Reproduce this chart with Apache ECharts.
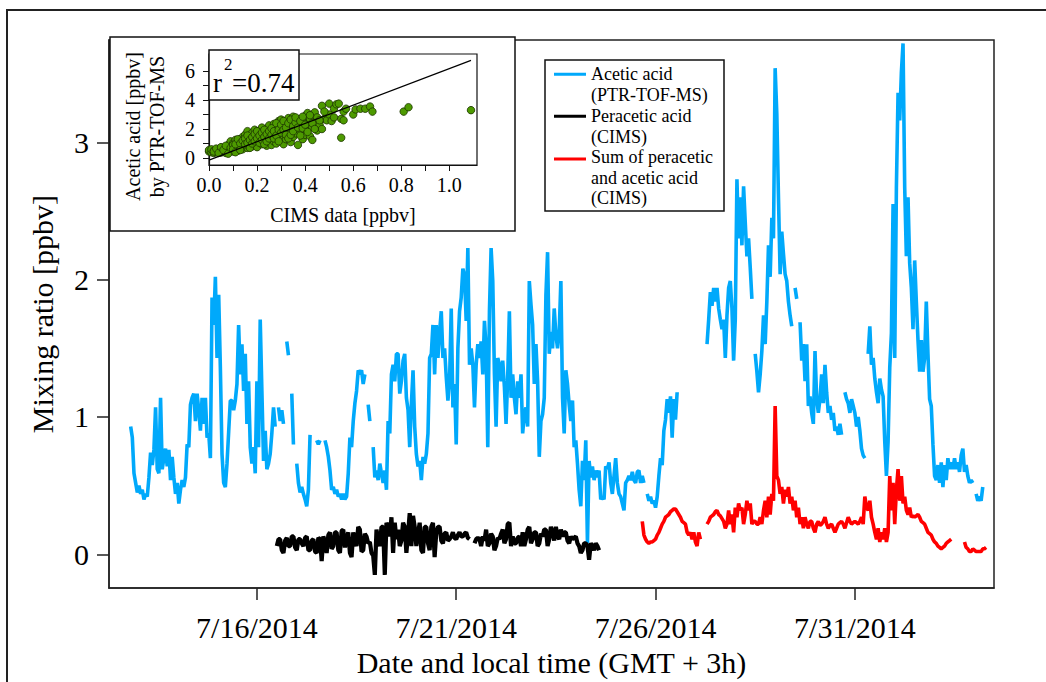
<!DOCTYPE html>
<html><head><meta charset="utf-8">
<script src="https://cdn.jsdelivr.net/npm/echarts@6/dist/echarts.min.js"></script>
<style>html,body{margin:0;padding:0;background:#fff}#c{width:1046px;height:682px}</style>
</head><body><div id="c"></div>
<script>
// ---------- data ----------
const seriesNames = ['Acetic acid (PTR-TOF-MS)', 'Peracetic acid (CIMS)', 'Sum of peracetic and acetic acid (CIMS)'];
const legendLabels = ['Acetic acid\n(PTR-TOF-MS)', 'Peracetic acid\n(CIMS)', 'Sum of peracetic\nand acetic acid\n(CIMS)'];
const xTickValues = [15, 20, 25, 30];           // days since 2014-07-01
const xTickLabels = ['7/16/2014', '7/21/2014', '7/26/2014', '7/31/2014'];
const yTickValues = [0, 1, 2, 3];

// hourly values (null = no data)
const aceticStart = '2014-07-12 20:00';
const aceticValues = [
0.93,0.85,0.59,0.52,0.45,0.50,0.44,0.47,0.40,0.44,
0.42,0.56,0.74,0.65,0.76,1.07,0.62,0.59,1.14,0.62,
0.70,0.77,0.64,0.76,0.54,0.71,0.56,0.44,0.52,0.37,
0.47,0.54,0.49,0.56,0.80,0.78,1.09,1.14,1.17,0.97,
1.17,1.05,0.90,1.14,0.95,1.14,0.85,0.88,0.70,1.87,
1.67,2.02,1.43,1.89,1.36,0.73,0.52,0.49,0.66,0.89,
1.12,1.12,1.05,1.12,1.24,1.67,1.31,1.53,1.19,1.46,
0.95,1.26,0.78,0.66,0.78,0.59,1.26,0.78,1.71,1.19,
0.68,0.90,0.62,0.66,0.73,0.88,1.07,0.93,null,1.07,
0.97,1.05,0.95,null,1.55,1.45,null,1.17,0.80,null,
0.66,0.52,0.45,0.49,0.44,0.40,0.35,0.47,0.87,null,
null,null,0.83,0.80,0.83,null,null,0.83,0.78,0.71,
0.61,0.47,0.49,0.44,0.47,0.42,0.44,0.40,0.44,0.40,
0.42,0.59,0.85,0.78,0.97,1.10,1.19,1.34,1.31,1.34,
1.24,1.31,null,1.09,0.97,null,0.78,0.56,0.61,0.54,
0.66,0.59,0.52,0.61,0.47,0.97,0.88,1.31,1.38,1.26,
1.46,1.46,1.17,1.26,1.41,1.46,1.14,1.05,0.78,1.09,
1.34,0.93,0.73,0.64,0.68,0.54,0.71,0.66,0.73,0.88,
1.43,1.46,1.67,1.31,1.67,1.43,1.62,1.77,1.43,1.50,
1.29,1.12,1.26,1.79,1.07,1.24,0.80,1.50,1.77,1.87,
2.08,2.03,1.70,2.23,1.38,1.50,1.38,1.07,1.38,1.53,
1.43,1.55,1.31,1.70,1.50,0.78,1.77,2.23,1.99,1.31,
0.93,1.43,1.38,1.26,1.41,1.22,0.95,1.29,1.77,1.14,
1.31,1.14,1.02,1.26,1.14,1.31,0.88,1.02,1.07,0.93,
1.99,1.82,1.67,1.24,1.53,1.26,0.71,0.97,1.02,1.14,
1.89,2.20,1.46,1.62,1.50,1.79,1.60,1.50,1.62,1.99,
1.14,0.88,1.34,1.24,1.09,0.97,1.12,0.78,0.83,0.66,
0.47,0.35,0.68,0.54,0.83,0.08,0.68,0.56,0.64,0.54,
0.61,0.56,0.61,0.40,0.42,0.40,0.64,0.62,0.67,0.52,
0.44,0.57,0.70,0.52,0.44,0.42,0.37,0.32,0.52,0.54,
0.57,0.54,0.60,0.54,0.52,0.60,0.61,0.52,0.57,0.52,
null,0.44,0.39,0.42,0.37,0.39,0.34,0.42,0.57,0.70,
0.65,0.90,0.98,1.13,1.03,1.15,0.85,1.13,0.98,1.18,
null,null,null,null,null,null,null,null,null,null,
null,null,null,null,null,null,null,1.53,1.71,1.91,
1.81,1.94,1.84,1.94,1.79,1.71,1.64,1.71,1.43,1.74,
1.94,1.99,1.79,1.41,1.71,2.73,2.30,2.60,2.25,2.68,
2.42,2.17,2.30,2.09,1.86,null,1.46,1.33,1.18,1.31,
1.48,1.74,1.53,1.84,2.25,2.02,2.45,2.30,3.54,3.21,
2.60,2.04,2.35,2.19,2.04,1.99,1.84,1.74,1.66,null,
1.94,1.86,null,1.69,1.41,1.53,1.26,1.53,1.08,1.15,
1.03,0.95,1.48,1.13,1.03,1.13,1.31,1.10,1.38,1.18,
1.03,1.08,0.98,1.03,0.90,0.93,0.87,0.95,0.87,null,
1.18,1.13,1.10,1.03,1.13,1.08,1.03,0.93,1.00,0.90,
0.77,0.72,0.70,null,1.46,1.66,1.38,1.43,1.28,1.18,
1.10,1.28,1.20,1.15,0.82,0.57,0.82,1.36,1.61,2.55,
1.43,2.67,3.36,3.16,3.51,3.72,2.67,2.17,2.60,2.12,
1.94,1.64,2.14,1.84,1.56,1.33,1.56,1.33,1.43,1.84,
1.46,1.13,1.08,0.80,0.57,0.54,0.65,0.52,0.67,0.49,
0.65,0.54,0.70,0.62,0.67,0.62,0.70,0.62,0.67,0.60,
0.72,0.77,0.60,0.65,0.57,0.52,0.54,0.52,null,0.44,
0.39,0.42,0.39,0.49
];

const peraceticStart = '2014-07-16 12:00';
const peraceticValues = [
0.06,0.11,0.11,0.03,0.01,0.10,0.12,0.06,0.06,0.13,
0.13,0.05,0.03,0.11,0.11,0.08,0.06,0.12,0.13,0.03,
0.03,0.10,0.11,0.02,0.01,0.12,0.11,-0.05,0.13,0.09,
0.01,0.14,0.16,0.04,0.06,0.16,0.16,0.03,0.01,0.17,
0.18,0.05,0.11,0.16,0.01,-0.02,0.16,0.10,0.06,0.20,
0.18,0.02,0.03,0.15,0.13,0.08,0.09,0.01,-0.01,-0.15,
0.18,0.10,0.06,0.20,0.20,-0.15,0.23,0.20,0.13,0.27,
0.01,0.23,0.11,0.18,0.06,0.10,0.23,0.20,0.01,0.15,
0.30,0.06,0.28,0.20,0.06,0.15,0.23,0.03,0.01,0.20,
0.20,0.08,0.03,0.20,0.23,-0.02,0.16,0.20,0.20,0.10,
0.08,0.15,0.16,0.10,0.11,0.13,0.16,0.12,0.11,0.14,
0.16,0.13,0.13,0.15,0.16,0.12,0.11,null,null,0.08,
0.11,0.12,0.11,0.06,0.13,0.10,0.18,0.06,0.08,0.15,
0.13,0.03,0.06,0.12,0.11,0.15,0.18,0.08,0.11,0.22,
0.23,0.06,0.13,0.08,0.08,0.12,0.13,0.06,0.16,0.06,
0.11,0.18,0.20,0.08,0.11,0.16,0.16,0.06,0.08,0.15,
0.13,0.18,0.18,0.06,0.11,0.20,0.16,0.10,0.20,0.13,
0.11,0.18,0.13,0.16,0.16,0.10,0.08,0.13,0.11,0.12,
0.13,0.08,0.06,0.01,0.03,0.08,0.08,0.06,-0.04,0.08,
0.06,0.03,0.08,0.06,0.03
];

const sumStart = '2014-07-25 16:00';
const sumValues = [
0.24,0.14,0.11,0.09,0.08,0.09,0.09,0.10,0.11,0.14,
0.16,0.19,0.22,0.24,0.27,0.28,0.29,0.31,0.32,0.33,
0.33,0.31,0.29,0.27,0.24,0.23,0.22,0.16,0.14,0.16,
0.11,0.16,0.09,0.06,0.16,0.11,null,null,null,0.22,
0.24,0.27,0.28,0.29,0.31,0.32,0.29,0.28,0.26,0.24,
0.19,0.22,0.32,0.22,0.29,0.16,0.34,0.27,0.37,0.32,
0.34,0.22,0.29,0.39,0.32,0.37,0.22,0.24,0.24,0.22,
0.22,0.27,0.22,0.32,0.39,0.27,0.42,0.29,0.44,0.39,
1.08,0.57,0.54,0.44,0.49,0.37,0.47,0.42,0.49,0.37,
0.42,0.32,0.39,0.27,0.34,0.22,0.27,0.19,0.27,0.22,
0.19,0.24,0.24,0.19,0.16,0.22,0.24,0.21,0.22,0.24,
0.27,0.22,0.19,0.21,0.22,0.19,0.16,0.19,0.22,0.23,
0.24,0.22,0.19,0.23,0.27,0.24,0.22,0.23,0.24,0.23,
0.22,0.24,0.27,0.22,0.42,0.34,0.32,0.39,0.27,0.22,
0.16,0.11,0.19,0.09,0.16,0.11,0.19,0.09,0.16,0.57,
0.32,0.52,0.22,0.47,0.62,0.39,0.57,0.37,0.42,0.32,
0.29,0.34,0.27,0.28,0.27,0.28,0.29,0.27,0.24,0.23,
0.22,0.19,0.16,0.15,0.14,0.11,0.09,0.08,0.06,0.05,
0.04,0.05,0.06,0.08,0.09,0.10,0.11,null,null,null,
null,null,null,null,0.09,0.05,0.04,0.02,0.02,0.04,
0.03,0.02,0.02,0.02,0.02,0.04,0.04,0.05
];

// inset: CIMS acetic acid (x) vs PTR-TOF-MS acetic acid (y), ppbv
const insetScatter = [
[0.00,0.45],[0.00,0.55],[0.01,0.40],[0.01,0.60],[0.02,0.50],[0.02,0.35],[0.03,0.55],[0.03,0.42],[0.04,0.48],[0.04,0.62],
[0.05,0.38],[0.05,0.55],[0.06,0.45],[0.06,0.70],[0.07,0.50],[0.07,0.35],[0.08,0.60],[0.08,0.90],[0.08,0.42],[0.09,0.55],
[0.09,1.15],[0.10,0.75],[0.10,0.45],[0.10,1.00],[0.11,0.60],[0.11,1.25],[0.12,0.85],[0.12,0.50],[0.12,1.10],[0.13,0.70],
[0.13,1.30],[0.14,0.95],[0.14,0.60],[0.14,1.45],[0.15,1.10],[0.15,0.80],[0.15,1.60],[0.16,0.70],[0.16,1.25],[0.16,1.85],
[0.17,0.95],[0.17,1.50],[0.18,1.20],[0.18,0.80],[0.18,1.75],[0.19,1.40],[0.19,0.90],[0.19,1.95],[0.20,1.05],[0.20,1.60],
[0.20,0.75],[0.21,1.30],[0.21,1.85],[0.22,0.95],[0.22,1.50],[0.22,2.10],[0.23,1.20],[0.23,1.75],[0.24,0.85],[0.24,1.40],
[0.24,2.00],[0.25,1.10],[0.25,1.65],[0.25,2.25],[0.26,1.30],[0.26,0.90],[0.26,1.95],[0.27,1.55],[0.27,2.35],[0.27,1.15],
[0.28,1.80],[0.28,1.00],[0.28,2.15],[0.29,1.40],[0.29,2.55],[0.29,1.70],[0.30,1.20],[0.30,2.00],[0.30,2.65],[0.31,1.55],
[0.31,2.30],[0.31,0.95],[0.32,1.85],[0.32,2.50],[0.32,1.30],[0.33,2.10],[0.33,2.75],[0.33,1.60],[0.34,1.10],[0.34,2.35],
[0.34,1.90],[0.35,2.60],[0.35,1.45],[0.35,2.85],[0.36,2.05],[0.36,1.70],[0.37,0.90],[0.37,2.40],[0.37,2.70],[0.38,1.85],
[0.38,2.20],[0.39,1.30],[0.39,2.55],[0.40,1.60],[0.40,2.90],[0.40,2.00],[0.41,2.35],[0.41,3.10],[0.42,1.50],[0.42,2.70],
[0.43,1.25],[0.43,2.10],[0.44,2.50],[0.44,3.15],[0.45,1.90],[0.45,2.80],[0.46,2.30],[0.47,3.60],[0.47,2.00],[0.48,2.70],
[0.49,2.60],[0.50,3.75],[0.50,3.00],[0.51,2.55],[0.52,3.40],[0.53,3.70],[0.54,3.75],[0.55,1.40],[0.55,2.70],[0.56,3.20],
[0.56,2.60],[0.57,3.40],[0.60,3.00],[0.61,3.35],[0.63,3.40],[0.65,3.40],[0.67,3.55],[0.68,3.20],[0.81,3.20],[0.83,3.50],
[1.09,3.30],
[0.02,0.45],[0.03,0.65],[0.04,0.35],[0.05,0.75],[0.06,0.55],[0.07,0.85],[0.08,0.30],[0.09,0.70],[0.10,0.90],[0.10,0.60],
[0.11,0.95],[0.11,0.40],[0.12,1.30],[0.13,1.00],[0.13,0.55],[0.14,1.20],[0.15,1.35],[0.15,0.95],[0.16,1.05],[0.16,1.55],
[0.17,1.25],[0.17,0.70],[0.18,1.45],[0.18,1.00],[0.19,1.65],[0.19,1.15],[0.20,1.35],[0.20,1.85],[0.21,1.55],[0.21,1.05],
[0.22,1.25],[0.22,1.75],[0.23,1.45],[0.23,1.95],[0.23,0.95],[0.24,1.65],[0.24,1.15],[0.25,1.85],[0.25,1.35],[0.26,2.05],
[0.26,1.60],[0.27,1.85],[0.27,1.35],[0.28,1.55],[0.28,2.40],[0.29,1.95],[0.29,1.15],[0.30,1.75],[0.30,2.30],[0.31,1.95],
[0.31,2.55],[0.32,2.10],[0.32,1.60],[0.33,2.40],[0.33,1.35],[0.34,2.65],[0.34,1.60],[0.35,2.20],[0.35,1.85],[0.36,2.45],
[0.36,2.80],[0.37,2.10],[0.38,2.55],[0.38,1.55],[0.39,2.85],[0.39,2.05],[0.40,2.30],[0.41,1.80],[0.42,2.95],[0.43,2.40],
[0.44,2.00],[0.46,2.60],[0.48,3.20],[0.52,2.80]
];
const fitLineX = [0.0, 1.09];
const fitLineY = [-0.14, 6.73];
const insetXTicks = [0, 0.1, 0.2, 0.3, 0.4, 0.5, 0.6, 0.7, 0.8, 0.9, 1.0];
const insetXLabels = [0, 0.2, 0.4, 0.6, 0.8, 1.0];
const insetYTicks = [0, 1, 2, 3, 4, 5, 6];
const insetYLabels = [0, 2, 4, 6];
const rSquared = '=0.74';

// ---------- helpers ----------
function dayOf(s) {
  const [d, t] = s.split(' ');
  const [Y, M, D] = d.split('-').map(Number);
  const [h, m] = t.split(':').map(Number);
  return (Date.UTC(Y, M - 1, D, h, m) - Date.UTC(2014, 6, 1)) / 864e5;
}
function hourly(start, vals) {
  const s0 = dayOf(start);
  return vals.map((v, i) => [s0 + i / 24, v === null ? '-' : v]);
}
const FONT = 'Liberation Serif';
const colors = ['#00a9fb', '#000000', '#ff0000'];

const chart = echarts.init(document.getElementById('c'), null, {renderer: 'svg'});

const iconPaths = [
  'path://M0,0h0.1v0.1h-0.1z M0,8.5h32v3h-32z M0,39.9h0.1v0.1h-0.1z',
  'path://M0,0h0.1v0.1h-0.1z M0,8.5h32v3h-32z M0,39.9h0.1v0.1h-0.1z',
  'path://M0,0h32v3h-32z M0,39.9h0.1v0.1h-0.1z'
];
const legendTops = [63.75, 105.75, 146.75];

const option = {
  animation: false,
  backgroundColor: '#fff',
  textStyle: {fontFamily: FONT},
  grid: [
    {left: 109, top: 40, width: 885, height: 552, show: true, borderColor: '#222', borderWidth: 1.5, backgroundColor: 'rgba(0,0,0,0)'},
    {left: 209, top: 54, width: 268, height: 111, show: true, borderColor: '#111', borderWidth: 1.2, backgroundColor: 'rgba(0,0,0,0)', z: 60}
  ],
  xAxis: [
    {
      type: 'value', gridIndex: 0, min: 11.29, max: 33.49,
      axisLine: {onZero: false, lineStyle: {color: '#222', width: 1.5}},
      axisTick: {customValues: xTickValues, length: 12, lineStyle: {color: '#222', width: 1.5}},
      axisLabel: {customValues: xTickValues, formatter: v => xTickLabels[xTickValues.indexOf(v)], margin: 24, fontSize: 30, fontFamily: FONT, color: '#000'},
      splitLine: {show: false},
      name: 'Date and local time (GMT + 3h)', nameLocation: 'middle', nameGap: 56,
      nameTextStyle: {fontSize: 30, fontFamily: FONT, color: '#000'}
    },
    {
      type: 'value', gridIndex: 1, min: 0, max: 1.115, z: 61,
      axisLine: {onZero: false, lineStyle: {color: '#111', width: 1.2}},
      axisTick: {customValues: insetXTicks, length: 6, lineStyle: {color: '#111', width: 1}},
      axisLabel: {customValues: insetXLabels, formatter: v => v.toFixed(1), margin: 10, fontSize: 20, fontFamily: FONT, color: '#000'},
      splitLine: {show: false},
      name: 'CIMS data [ppbv]', nameLocation: 'middle', nameGap: 40,
      nameTextStyle: {fontSize: 20, fontFamily: FONT, color: '#000'}
    }
  ],
  yAxis: [
    {
      type: 'value', gridIndex: 0, min: -0.246, max: 3.745,
      axisLine: {show: true, onZero: false, lineStyle: {color: '#222', width: 1.5}},
      axisTick: {show: true, customValues: yTickValues, length: 12, lineStyle: {color: '#222', width: 1.5}},
      axisLabel: {customValues: yTickValues, margin: 20, fontSize: 30, fontFamily: FONT, color: '#000'},
      splitLine: {show: false},
      name: 'Mixing ratio [ppbv]', nameLocation: 'middle', nameGap: 52,
      nameTextStyle: {fontSize: 30, fontFamily: FONT, color: '#000'}
    },
    {
      type: 'value', gridIndex: 1, min: -0.48, max: 7.17, z: 61,
      axisLine: {show: true, onZero: false, lineStyle: {color: '#111', width: 1.2}},
      axisTick: {show: true, customValues: insetYTicks, length: 6, lineStyle: {color: '#111', width: 1}},
      axisLabel: {customValues: insetYLabels, margin: 14, fontSize: 20, fontFamily: FONT, color: '#000'},
      splitLine: {show: false},
      name: 'Acetic acid [ppbv]\nby PTR-TOF-MS', nameLocation: 'middle', nameGap: 40,
      nameTextStyle: {fontSize: 20, lineHeight: 24, fontFamily: FONT, color: '#000', padding: [0, 34, 0, 0]}
    }
  ],
  legend: [0, 1, 2].map(i => ({
    data: [{name: seriesNames[i], icon: iconPaths[i]}],
    left: 554, top: legendTops[i], orient: 'vertical', padding: 0,
    itemWidth: 32, itemHeight: 40, itemGap: 0, selectedMode: false, z: 70,
    itemStyle: {borderWidth: 0},
    formatter: n => legendLabels[seriesNames.indexOf(n)],
    textStyle: {fontFamily: FONT, fontSize: 18, lineHeight: 20.5, color: '#000'}
  })),
  graphic: {elements: [
    {type: 'polyline', shape: {points: [[7, 682], [7, 10], [1046, 10]]}, style: {fill: null, stroke: '#222', lineWidth: 2}, z: 1, silent: true},
    {type: 'rect', shape: {x: 110, y: 37, width: 405, height: 194}, style: {fill: '#fff', stroke: '#111', lineWidth: 1.5}, z: 50, silent: true},
    {type: 'rect', shape: {x: 545, y: 60, width: 179, height: 151}, style: {fill: '#fff', stroke: '#111', lineWidth: 1.5}, z: 50, silent: true},
    {type: 'rect', shape: {x: 209, y: 50, width: 90, height: 50}, style: {fill: '#fff', stroke: '#111', lineWidth: 1.5}, z: 80, silent: true},
    {type: 'text', x: 213, y: 83, style: {text: 'r', fontSize: 27, fontFamily: FONT, fill: '#000', verticalAlign: 'middle'}, z: 81, silent: true},
    {type: 'text', x: 224, y: 64, style: {text: '2', fontSize: 17, fontFamily: FONT, fill: '#000', verticalAlign: 'middle'}, z: 81, silent: true},
    {type: 'text', x: 232, y: 83, style: {text: rSquared, fontSize: 27, fontFamily: FONT, fill: '#000', verticalAlign: 'middle'}, z: 81, silent: true}
  ]},
  series: [
    {name: seriesNames[0], type: 'line', xAxisIndex: 0, yAxisIndex: 0, data: hourly(aceticStart, aceticValues),
      showSymbol: false, symbol: 'none', connectNulls: false, color: colors[0], lineStyle: {width: 3.6, color: colors[0]}, z: 3},
    {name: seriesNames[1], type: 'line', xAxisIndex: 0, yAxisIndex: 0, data: hourly(peraceticStart, peraceticValues),
      showSymbol: false, symbol: 'none', connectNulls: false, color: colors[1], lineStyle: {width: 4.2, color: colors[1]}, z: 4},
    {name: seriesNames[2], type: 'line', xAxisIndex: 0, yAxisIndex: 0, data: hourly(sumStart, sumValues),
      showSymbol: false, symbol: 'none', connectNulls: false, color: colors[2], lineStyle: {width: 3.6, color: colors[2]}, z: 4},
    {name: 'inset', type: 'scatter', xAxisIndex: 1, yAxisIndex: 1, data: insetScatter, symbolSize: 7.5, clip: false,
      itemStyle: {color: '#4d9a00', borderColor: '#1c3300', borderWidth: 0.8, opacity: 1}, z: 62},
    {name: 'fit', type: 'line', xAxisIndex: 1, yAxisIndex: 1, data: fitLineX.map((x, i) => [x, fitLineY[i]]),
      showSymbol: false, symbol: 'none', lineStyle: {width: 1.2, color: '#000'}, z: 63, clip: false}
  ]
};
chart.setOption(option);
</script>
</body></html>
